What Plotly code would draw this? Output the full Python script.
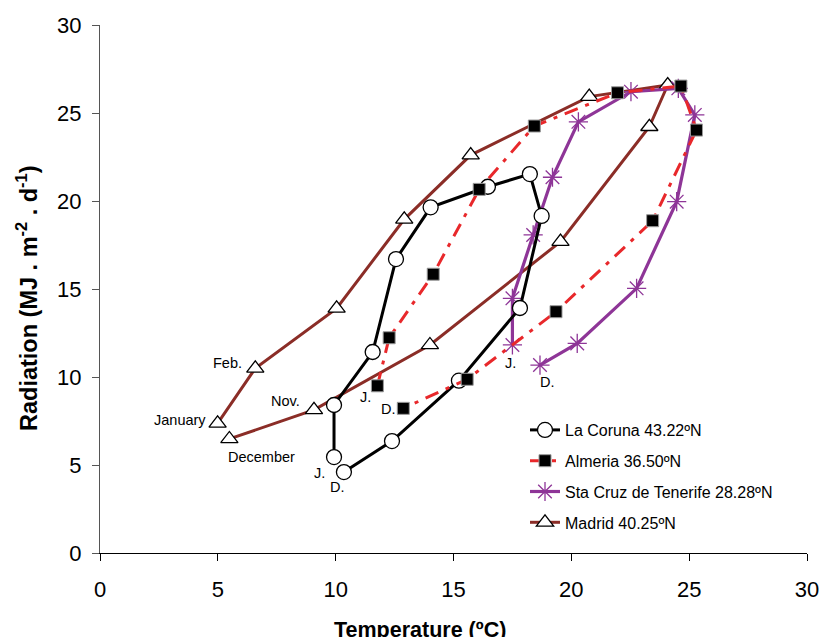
import plotly.graph_objects as go

# Monthly values, January..December: mean temperature (ºC) and radiation (MJ m-2 d-1)
months = ["Jan", "Feb", "Mar", "Apr", "May", "Jun", "Jul", "Aug", "Sep", "Oct", "Nov", "Dec"]

coruna_t = [9.93, 9.93, 11.57, 12.56, 14.03, 16.46, 18.24, 18.74, 17.82, 15.23, 12.39, 10.35]
coruna_r = [5.45, 8.41, 11.42, 16.70, 19.64, 20.81, 21.53, 19.15, 13.92, 9.79, 6.36, 4.60]

almeria_t = [11.77, 12.27, 14.14, 16.09, 18.43, 21.96, 24.65, 25.31, 23.45, 19.35, 15.58, 12.87]
almeria_r = [9.50, 12.23, 15.84, 20.66, 24.26, 26.15, 26.53, 24.03, 18.88, 13.71, 9.87, 8.22]

tenerife_t = [17.50, 17.50, 18.38, 19.20, 20.30, 22.53, 24.54, 25.24, 24.47, 22.77, 20.25, 18.67]
tenerife_r = [11.82, 14.47, 18.07, 21.35, 24.50, 26.21, 26.40, 24.89, 19.96, 15.04, 11.91, 10.68]

madrid_t = [4.99, 6.59, 10.04, 12.91, 15.73, 20.76, 24.09, 23.31, 19.54, 14.00, 9.08, 5.49]
madrid_r = [7.37, 10.49, 13.90, 18.96, 22.61, 25.93, 26.59, 24.22, 17.69, 11.82, 8.13, 6.48]

names = ["La Coruna 43.22ºN", "Almeria 36.50ºN", "Sta Cruz de Tenerife 28.28ºN", "Madrid 40.25ºN"]

x_ticks = [0, 5, 10, 15, 20, 25, 30]
y_ticks = [0, 5, 10, 15, 20, 25, 30]

FONT = "Liberation Sans, Arial, Helvetica, sans-serif"

fig = go.Figure()

fig.add_trace(go.Scatter(
    x=madrid_t, y=madrid_r, name=names[3], mode="lines+markers", legendrank=4, legendgroup="m",
    line=dict(color="#8B2D27", width=3),
    marker=dict(symbol="triangle-up", size=15, color="white", line=dict(color="black", width=1.3)),
))
fig.add_trace(go.Scatter(
    x=tenerife_t, y=tenerife_r, name=names[2], mode="lines+markers", legendrank=3, legendgroup="t",
    line=dict(color="#8E3597", width=3.2),
    marker=dict(symbol="asterisk-open", size=16, color="#8E3597", line=dict(color="#8E3597", width=1.3)),
))
fig.add_trace(go.Scatter(
    x=coruna_t, y=coruna_r, name=names[0], mode="lines+markers", legendrank=1, legendgroup="c",
    line=dict(color="black", width=3),
    marker=dict(symbol="circle", size=15, color="white", line=dict(color="black", width=1.3)),
))
fig.add_trace(go.Scatter(
    x=almeria_t, y=almeria_r, name=names[1], mode="lines+markers", legendrank=2, legendgroup="a",
    line=dict(color="#E8282B", width=3, dash="14px,8px,4px,8px"),
    marker=dict(symbol="square", size=12, color="black", line=dict(color="#9a9a9a", width=1)),
))

ann_font = dict(family=FONT, size=14.5, color="black")
labels = [
    ("January", madrid_t[0], madrid_r[0], "right", -10, 3),
    ("Feb.", madrid_t[1], madrid_r[1], "right", -11, 5),
    ("December", madrid_t[11], madrid_r[11], "left", -3, -18),
    ("Nov.", madrid_t[10], madrid_r[10], "right", -12, 9),
    ("J.", coruna_t[0], coruna_r[0], "right", -7, -16),
    ("D.", coruna_t[11], coruna_r[11], "center", -6, -15),
    ("J.", almeria_t[0], almeria_r[0], "right", -4, -11),
    ("D.", almeria_t[11], almeria_r[11], "right", -5, -1),
    ("J.", tenerife_t[0], tenerife_r[0], "center", -2, -18),
    ("D.", tenerife_t[11], tenerife_r[11], "left", -2, -17),
]
annotations = []
for text, x, y, xa, xs, ys in labels:
    annotations.append(dict(text=text, x=x, y=y, xref="x", yref="y", xanchor=xa, yanchor="middle",
                            xshift=xs, yshift=ys, showarrow=False, font=ann_font))

annotations.append(dict(text="<b>Temperature (ºC)</b>", xref="paper", yref="paper",
                        x=(420 - 100) / 707, y=-(616 - 553) / 528, xanchor="center", yanchor="top",
                        showarrow=False, font=dict(family=FONT, size=21.5, color="black")))
annotations.append(dict(text="<b>Radiation (MJ . m<sup>-2</sup> . d<sup>-1</sup>)</b>", xref="paper", yref="paper",
                        x=-(100 - 27) / 707, y=(553 - 298) / 528, xanchor="center", yanchor="middle",
                        textangle=-90, showarrow=False, font=dict(family=FONT, size=23.5, color="black")))

fig.update_layout(
    width=822, height=637,
    margin=dict(l=100, r=15, t=25, b=84, autoexpand=False),
    paper_bgcolor="white", plot_bgcolor="white",
    font=dict(family=FONT, color="black"),
    annotations=annotations,
    showlegend=True,
    legend=dict(x=(525 - 100) / 707, y=(553 - 413) / 528, xanchor="left", yanchor="top",
                font=dict(family=FONT, size=16, color="black"), bgcolor="rgba(0,0,0,0)",
                tracegroupgap=7, itemwidth=30),
)
fig.update_xaxes(range=[0, 30], tickvals=x_ticks, ticks="outside", ticklen=7, tickcolor="black",
                 showline=True, linecolor="black", linewidth=1.3, showgrid=False, zeroline=False,
                 tickfont=dict(family=FONT, size=22), ticklabelstandoff=9, automargin=False)
fig.update_yaxes(range=[0, 30], tickvals=y_ticks, ticks="outside", ticklen=7, tickcolor="#555555",
                 showline=True, linecolor="#555555", linewidth=1.3, showgrid=False, zeroline=False,
                 tickfont=dict(family=FONT, size=22), ticklabelstandoff=6, automargin=False)

fig.write_html("out.html", config={"displayModeBar": False},
               post_script="document.body.style.margin='0';")
